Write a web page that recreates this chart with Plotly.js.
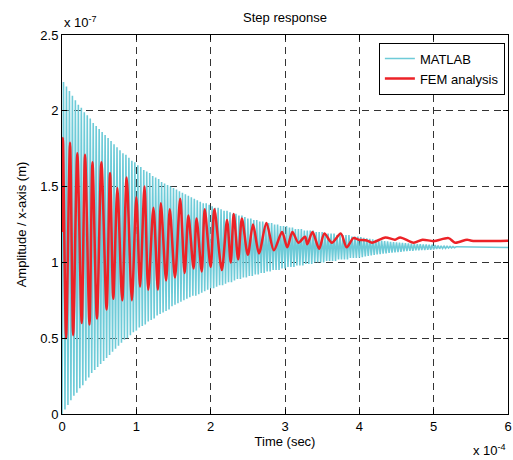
<!DOCTYPE html>
<html>
<head>
<meta charset="utf-8">
<script src="https://cdn.plot.ly/plotly-3.0.1.min.js"></script>
<style>html,body{margin:0;padding:0;background:#fff;}#chart{width:513px;height:460px;}</style>
</head>
<body>
<div id="chart"></div>
<script>
// Time axis in units of 1e-4 s, amplitude in units of 1e-7 m
// MATLAB step response: successive extreme values, one every 0.02 (x1e-4 s)
const matlabStart = 0;
const matlabStep = 0.02;
const matlabY = [
0.00,2.19,0.03,2.16,0.06,2.13,0.09,2.10,0.12,2.07,
0.14,2.04,0.17,2.02,0.19,1.99,0.22,1.97,0.24,1.95,
0.27,1.92,0.29,1.90,0.31,1.88,0.33,1.86,0.35,1.84,
0.37,1.82,0.39,1.80,0.41,1.78,0.43,1.76,0.45,1.74,
0.47,1.72,0.49,1.71,0.50,1.69,0.52,1.67,0.54,1.66,
0.55,1.64,0.57,1.63,0.58,1.61,0.59,1.60,0.61,1.59,
0.62,1.57,0.63,1.56,0.65,1.55,0.66,1.53,0.67,1.52,
0.68,1.51,0.69,1.50,0.71,1.49,0.72,1.48,0.73,1.47,
0.74,1.46,0.75,1.45,0.76,1.44,0.77,1.43,0.78,1.42,
0.78,1.41,0.79,1.40,0.80,1.39,0.81,1.39,0.82,1.38,
0.83,1.37,0.83,1.36,0.84,1.36,0.85,1.35,0.85,1.34,
0.86,1.34,0.87,1.33,0.87,1.32,0.88,1.32,0.89,1.31,
0.89,1.31,0.90,1.30,0.90,1.29,0.91,1.29,0.91,1.28,
0.92,1.28,0.92,1.27,0.93,1.27,0.93,1.26,0.94,1.26,
0.94,1.26,0.95,1.25,0.95,1.25,0.95,1.24,0.96,1.24,
0.96,1.24,0.97,1.23,0.97,1.23,0.97,1.22,0.98,1.22,
0.98,1.22,0.98,1.21,0.99,1.21,0.99,1.21,0.99,1.21,
1.00,1.20,1.00,1.20,1.00,1.20,1.00,1.19,1.01,1.19,
1.01,1.19,1.01,1.19,1.01,1.18,1.02,1.18,1.02,1.18,
1.02,1.18,1.02,1.18,1.03,1.17,1.03,1.17,1.03,1.17,
1.031,1.167,1.035,1.163,1.039,1.159,1.043,1.156,1.046,1.152,
1.049,1.149,1.052,1.146,1.054,1.144,1.057,1.141,1.059,1.139,
1.062,1.136,1.064,1.134,1.066,1.132,1.068,1.130,1.070,1.128,
1.072,1.127,1.074,1.125,1.076,1.124,1.077,1.122,1.079,1.121,
1.080,1.120,1.081,1.119,1.082,1.118,1.083,1.117,1.084,1.116,
1.085,1.114,1.088,1.111,1.090,1.109,1.092,1.107,1.093,1.106,
1.095,1.105,1.096,1.104,1.097,1.103
];
// settled tail of the MATLAB response
const matlabTailT = [5.30, 6.00];
const matlabTailY = [1.103, 1.098];

// FEM analysis response (time x1e-4 s, amplitude x1e-7 m)
const femT = [0.00,0.012,0.055,0.108,0.15,0.206,0.265,0.31,0.37,0.41,
0.47,0.53,0.60,0.646,0.69,0.745,0.81,0.87,0.94,1.00,
1.05,1.11,1.16,1.23,1.29,1.33,1.40,1.45,1.52,1.59,
1.65,1.70,1.77,1.81,1.88,1.92,2.00,2.05,2.15,2.22,
2.27,2.31,2.37,2.42,2.50,2.57,2.65,2.75,2.85,2.96,
3.03,3.10,3.18,3.27,3.30,3.37,3.46,3.53,3.63,3.75,
3.83,3.92,3.99,4.10,4.17,4.35,4.48,4.55,4.73,4.85,
5.00,5.20,5.29,5.45,5.51,6.00];
const femY = [1.20,1.82,0.50,1.79,0.52,1.72,0.60,1.71,0.59,1.66,
0.63,1.66,0.69,1.59,0.76,1.49,0.75,1.56,0.75,1.43,
0.84,1.50,0.82,1.36,0.82,1.39,0.88,1.35,0.90,1.42,
0.93,1.31,0.96,1.29,0.94,1.35,0.97,1.35,0.95,1.28,
1.00,1.32,1.02,1.29,1.05,1.25,1.06,1.26,1.08,1.20,
1.10,1.20,1.13,1.17,1.12,1.20,1.09,1.19,1.13,1.19,
1.10,1.16,1.15,1.145,1.13,1.165,1.15,1.165,1.13,1.15,
1.14,1.16,1.13,1.15,1.143,1.143];

const xTicks = [0,1,2,3,4,5,6];
const yTicks = [0,0.5,1,1.5,2,2.5];

const cyan = '#6ecbd8';
const red = '#ec2227';

const traces = [
  {type:'scatter', mode:'lines', name:'MATLAB', x0:matlabStart, dx:matlabStep, y:matlabY,
   line:{color:cyan, width:1.6}, legendrank:1},
  {type:'scatter', mode:'lines', name:'MATLAB tail', x:matlabTailT, y:matlabTailY,
   line:{color:cyan, width:1.6}, showlegend:false},
  {type:'scatter', mode:'lines', name:'FEM analysis', x:femT, y:femY,
   line:{color:red, width:2.5, shape:'spline', smoothing:0.8}, legendrank:2}
];

const axisCommon = {
  showline:true, linecolor:'#000', linewidth:1, mirror:'ticks',
  ticks:'inside', ticklen:5, tickcolor:'#000', tickwidth:1,
  showgrid:true, gridcolor:'#333', gridwidth:1, griddash:'7px,5px',
  zeroline:false, tickfont:{size:13, color:'#000'}
};

const layout = {
  width:513, height:460,
  margin:{l:62, r:5, t:35, b:46},
  paper_bgcolor:'#fff', plot_bgcolor:'#fff',
  font:{family:'"Liberation Sans", Arial, sans-serif', size:13, color:'#000'},
  title:{text:'Step response', x:0.5, xref:'paper', xanchor:'center',
         y:1-17/460, yref:'container', yanchor:'middle', font:{size:13}},
  xaxis:Object.assign({}, axisCommon, {range:[0,6], tickvals:xTicks, ticktext:xTicks.map(String),
         title:{text:'Time (sec)', standoff:4, font:{size:13}}}),
  yaxis:Object.assign({}, axisCommon, {range:[0,2.5], tickvals:yTicks, ticktext:yTicks.map(String),
         title:{text:'Amplitude / x-axis (m)', standoff:10, font:{size:13}}}),
  showlegend:true,
  legend:{x:0.993, y:0.98, xanchor:'right', yanchor:'top', bgcolor:'#fff',
          bordercolor:'#000', borderwidth:1, font:{size:13}, traceorder:'normal'},
  annotations:[
    {text:'x 10<sup>-7</sup>', xref:'paper', yref:'paper', x:0, y:1, xanchor:'left', yanchor:'bottom',
     yshift:3, showarrow:false, font:{size:13}},
    {text:'x 10<sup>-4</sup>', xref:'paper', yref:'paper', x:1, y:0, xanchor:'right', yanchor:'top',
     yshift:-26, showarrow:false, font:{size:13}}
  ]
};

Plotly.newPlot('chart', traces, layout, {displayModeBar:false, staticPlot:true});
</script>
</body>
</html>
